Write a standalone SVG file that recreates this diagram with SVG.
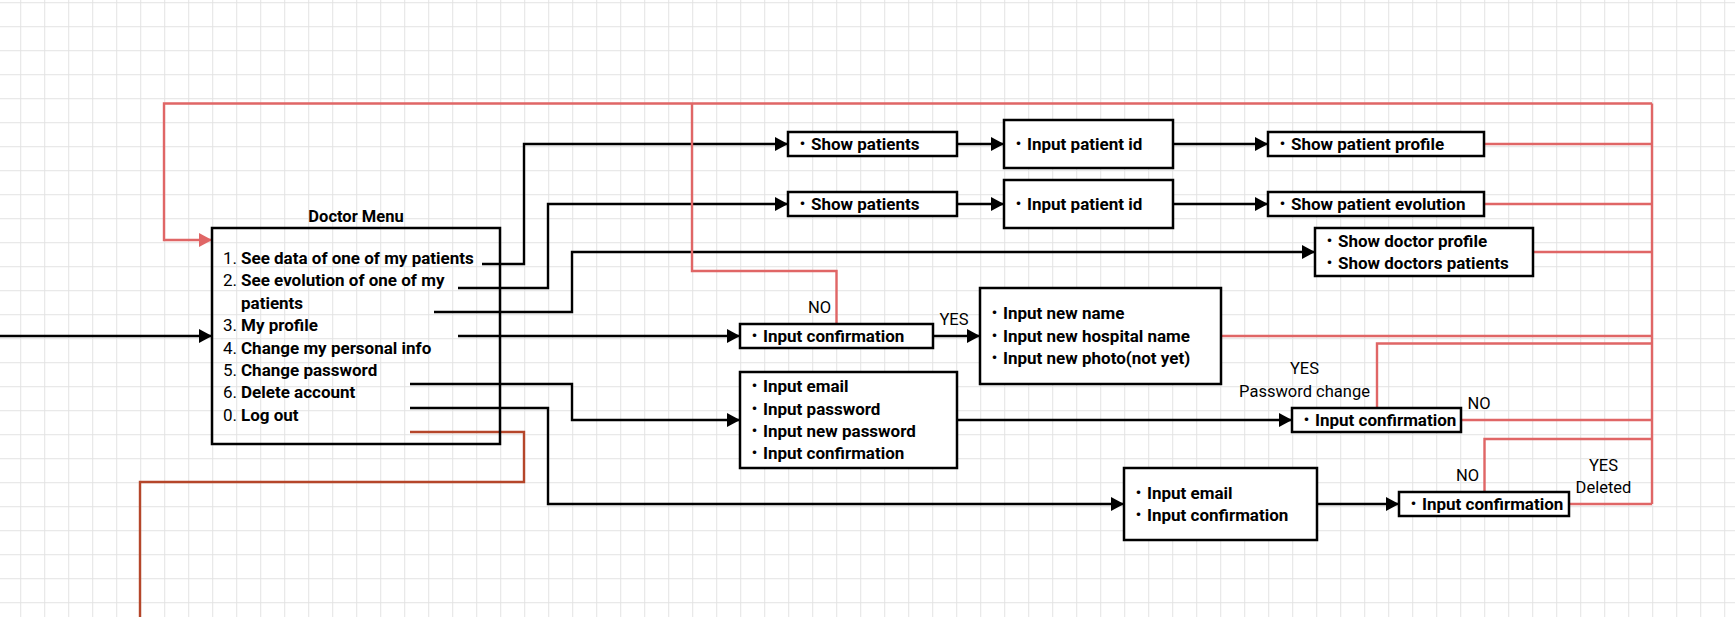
<svg xmlns="http://www.w3.org/2000/svg" width="1735" height="617" viewBox="0 0 1735 617">
<style>
.box{fill:#fff;stroke:#000;stroke-width:2.5}
.t{font-family:Roboto,"Noto Sans CJK JP",sans-serif;font-size:17px;font-weight:bold;fill:#000}
.ttl{font-family:Roboto,"Noto Sans CJK JP",sans-serif;font-size:16.5px;font-weight:bold;fill:#000}
.n{font-family:Roboto,"Noto Sans CJK JP",sans-serif;font-size:17px;font-weight:normal;fill:#000}
.d{font-family:"Noto Sans CJK JP",sans-serif;font-weight:normal}
.lbl{font-family:Roboto,"Noto Sans",sans-serif;font-size:16.5px;fill:#000;text-anchor:middle}
.k{fill:none;stroke:#000;stroke-width:2.4}
.r{fill:none;stroke:#e06666;stroke-width:2.4}
.b{fill:none;stroke:#b5462a;stroke-width:2.4}
</style>
<defs>
<pattern id="grid" width="24" height="24" patternUnits="userSpaceOnUse" x="20.2" y="2.2">
<path d="M0.5,0 V24 M0,0.5 H24" stroke="#e3e3e3" stroke-width="1" fill="none"/>
</pattern>
<marker id="ak" viewBox="0 0 13 14" refX="13" refY="7" markerWidth="13" markerHeight="14" orient="auto" markerUnits="userSpaceOnUse">
<path d="M0,0 L13,7 L0,14 Z" fill="#000"/>
</marker>
<marker id="ar" viewBox="0 0 13 14" refX="13" refY="7" markerWidth="13" markerHeight="14" orient="auto" markerUnits="userSpaceOnUse">
<path d="M0,0 L13,7 L0,14 Z" fill="#e06666"/>
</marker>
</defs>
<rect x="0" y="0" width="1735" height="617" fill="#fff"/>
<rect x="0" y="0" width="1735" height="617" fill="url(#grid)"/>

<g id="connectors">
<path class="k" d="M0,336 H212" marker-end="url(#ak)"/>
<path class="k" d="M482,264 H524 V144 H788" marker-end="url(#ak)"/>
<path class="k" d="M458,288 H548 V204 H788" marker-end="url(#ak)"/>
<path class="k" d="M434,312 H572 V252 H1315" marker-end="url(#ak)"/>
<path class="k" d="M458,336 H740" marker-end="url(#ak)"/>
<path class="k" d="M410,384 H572 V420 H740" marker-end="url(#ak)"/>
<path class="k" d="M410,408 H548 V504 H1124" marker-end="url(#ak)"/>
<path class="k" d="M957,144 H1004" marker-end="url(#ak)"/>
<path class="k" d="M1173,144 H1268" marker-end="url(#ak)"/>
<path class="k" d="M957,204 H1004" marker-end="url(#ak)"/>
<path class="k" d="M1173,204 H1268" marker-end="url(#ak)"/>
<path class="k" d="M933,336 H980" marker-end="url(#ak)"/>
<path class="k" d="M957,420 H1292" marker-end="url(#ak)"/>
<path class="k" d="M1317,504 H1399" marker-end="url(#ak)"/>
<path class="b" d="M410,432 H524 V482 H140 V617"/>
<path class="r" d="M1652,103.5 H164 V240 H212" marker-end="url(#ar)"/>
<path class="r" d="M836.5,324 V271 H692 V103.5"/>
<path class="r" d="M1652,103.5 V504"/>
<path class="r" d="M1484,144 H1652"/>
<path class="r" d="M1484,204 H1652"/>
<path class="r" d="M1533,252 H1652"/>
<path class="r" d="M1221,336 H1652"/>
<path class="r" d="M1377,408 V343.5 H1652"/>
<path class="r" d="M1461,420 H1652"/>
<path class="r" d="M1484.5,492 V439 H1652"/>
<path class="r" d="M1569,504 H1652"/>
</g>

<g id="labels">
<text class="lbl" x="819.5" y="312.5">NO</text>
<text class="lbl" x="954" y="325">YES</text>
<text class="lbl" x="1304.5" y="374">YES</text>
<text class="lbl" x="1304.5" y="396.5">Password change</text>
<text class="lbl" x="1479" y="409">NO</text>
<text class="lbl" x="1467.5" y="481">NO</text>
<text class="lbl" x="1603.5" y="470.5">YES</text>
<text class="lbl" x="1603.5" y="492.5">Deleted</text>
</g>

<g id="doctor-menu">
<text class="ttl" x="356" y="222" text-anchor="middle">Doctor Menu</text>
<rect class="box" x="212" y="228" width="288" height="216" style="fill:none"/>
<text class="n" x="223" y="264">1.</text><text class="t" x="241" y="264">See data of one of my patients</text>
<text class="n" x="223" y="286.4">2.</text><text class="t" x="241" y="286.4">See evolution of one of my</text>
<text class="t" x="241" y="308.8">patients</text>
<text class="n" x="223" y="331.2">3.</text><text class="t" x="241" y="331.2">My profile</text>
<text class="n" x="223" y="353.6">4.</text><text class="t" x="241" y="353.6">Change my personal info</text>
<text class="n" x="223" y="376">5.</text><text class="t" x="241" y="376">Change password</text>
<text class="n" x="223" y="398.4">6.</text><text class="t" x="241" y="398.4">Delete account</text>
<text class="n" x="223" y="420.8">0.</text><text class="t" x="241" y="420.8">Log out</text>
</g>

<g id="show-patients-1">
<rect class="box" x="788" y="132" width="169" height="24"/>
<text class="t" x="794" y="150"><tspan class="d">・</tspan>Show patients</text>
</g>
<g id="input-patient-id-1">
<rect class="box" x="1004" y="120" width="169" height="48"/>
<text class="t" x="1010" y="150"><tspan class="d">・</tspan>Input patient id</text>
</g>
<g id="show-patient-profile">
<rect class="box" x="1268" y="132" width="216" height="24"/>
<text class="t" x="1274" y="150"><tspan class="d">・</tspan>Show patient profile</text>
</g>
<g id="show-patients-2">
<rect class="box" x="788" y="192" width="169" height="24"/>
<text class="t" x="794" y="210"><tspan class="d">・</tspan>Show patients</text>
</g>
<g id="input-patient-id-2">
<rect class="box" x="1004" y="180" width="169" height="48"/>
<text class="t" x="1010" y="210"><tspan class="d">・</tspan>Input patient id</text>
</g>
<g id="show-patient-evolution">
<rect class="box" x="1268" y="192" width="216" height="24"/>
<text class="t" x="1274" y="210"><tspan class="d">・</tspan>Show patient evolution</text>
</g>
<g id="doctor-profile">
<rect class="box" x="1315" y="228" width="218" height="48"/>
<text class="t" x="1321" y="246.5"><tspan class="d">・</tspan>Show doctor profile</text>
<text class="t" x="1321" y="268.9"><tspan class="d">・</tspan>Show doctors patients</text>
</g>
<g id="confirm-personal">
<rect class="box" x="740" y="324" width="193" height="24"/>
<text class="t" x="746" y="342"><tspan class="d">・</tspan>Input confirmation</text>
</g>
<g id="new-info">
<rect class="box" x="980" y="288" width="241" height="96"/>
<text class="t" x="986" y="319.3"><tspan class="d">・</tspan>Input new name</text>
<text class="t" x="986" y="341.7"><tspan class="d">・</tspan>Input new hospital name</text>
<text class="t" x="986" y="364.1"><tspan class="d">・</tspan>Input new photo(not yet)</text>
</g>
<g id="password-inputs">
<rect class="box" x="740" y="372" width="217" height="96"/>
<text class="t" x="746" y="392.1"><tspan class="d">・</tspan>Input email</text>
<text class="t" x="746" y="414.5"><tspan class="d">・</tspan>Input password</text>
<text class="t" x="746" y="436.9"><tspan class="d">・</tspan>Input new password</text>
<text class="t" x="746" y="459.3"><tspan class="d">・</tspan>Input confirmation</text>
</g>
<g id="confirm-password">
<rect class="box" x="1292" y="408" width="169" height="24"/>
<text class="t" x="1298" y="426"><tspan class="d">・</tspan>Input confirmation</text>
</g>
<g id="delete-inputs">
<rect class="box" x="1124" y="468" width="193" height="72"/>
<text class="t" x="1130" y="498.5"><tspan class="d">・</tspan>Input email</text>
<text class="t" x="1130" y="520.9"><tspan class="d">・</tspan>Input confirmation</text>
</g>
<g id="confirm-delete">
<rect class="box" x="1399" y="492" width="170" height="24"/>
<text class="t" x="1405" y="510"><tspan class="d">・</tspan>Input confirmation</text>
</g>
</svg>
